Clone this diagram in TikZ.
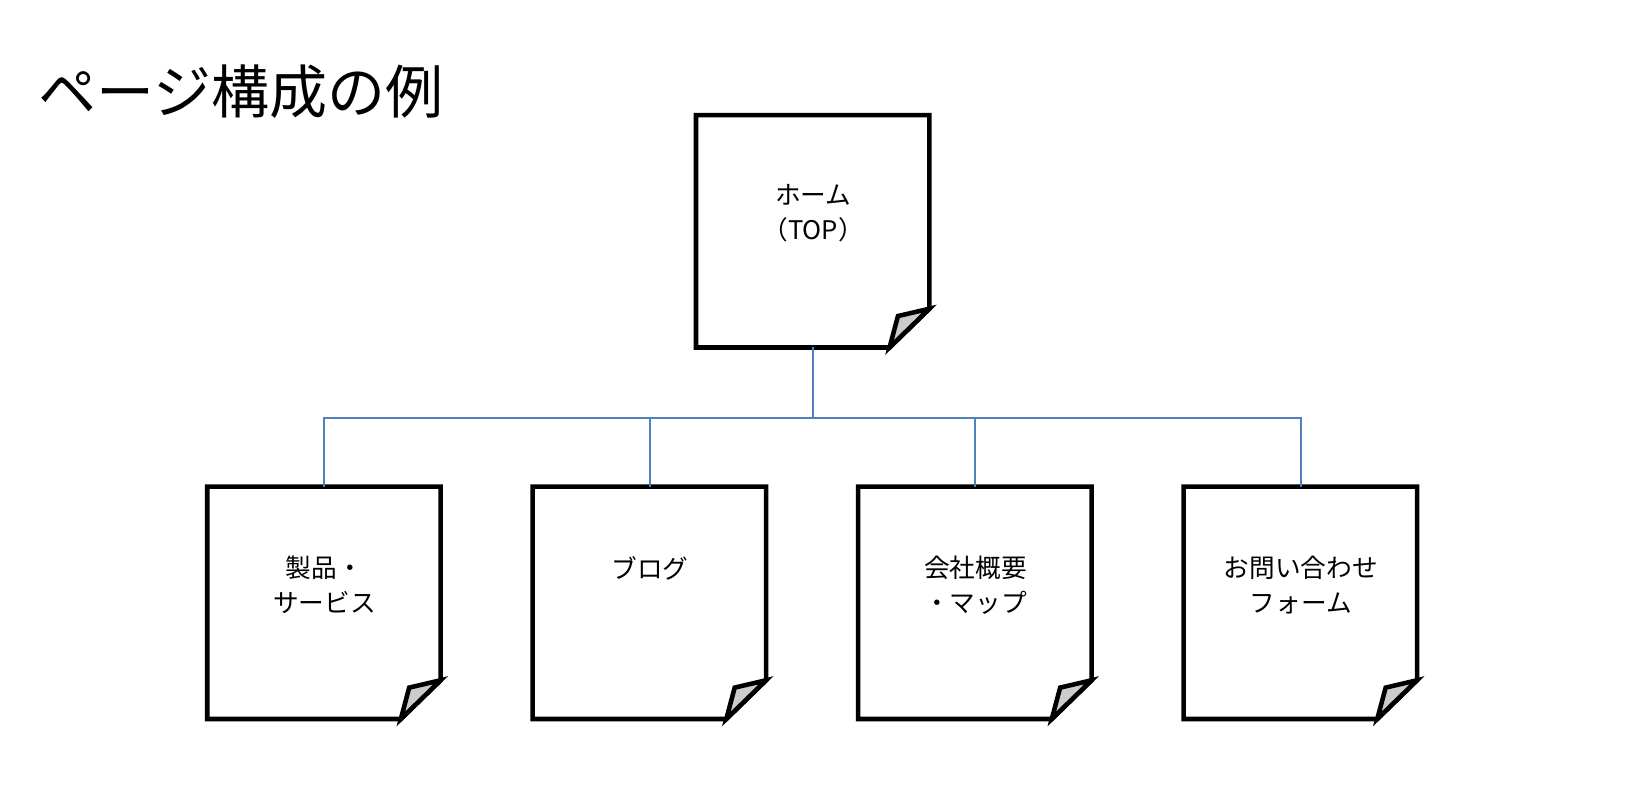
\documentclass[tikz,border=0pt]{standalone}
\usepackage{fontspec}
\newfontfamily\cjk{Noto Sans CJK JP}
\newcommand\pagenode[4]{%
  \draw[pagebox] (#1,#2) -- (#1+223,#2) -- (#1+223,#2+185) -- (#1+185,#2+222) -- (#1,#2+222) -- cycle;
  \draw[fold] (#1+185,#2+222) -- (#1+193,#2+192) -- (#1+223,#2+185) -- cycle;
  \node[lbl] (#3) at (#1+112,#2+94) {#4};
  \coordinate (#3t) at (#1+112,#2);
  \coordinate (#3b) at (#1+112,#2+222);}
\begin{document}
\begin{tikzpicture}[x=0.010466cm,y=-0.010466cm,
  pagebox/.style={line width=1.3pt,line join=miter},
  fold/.style={line width=1.3pt,fill=black!20},
  conn/.style={draw={rgb,255:red,79;green,129;blue,189},line width=0.6pt},
  lbl/.style={font=\cjk\fontsize{7.3pt}{10pt}\selectfont,align=center}]
\node[anchor=base west,font=\cjk\fontsize{16.5pt}{20pt}\selectfont,inner sep=0] (title) at (36,108) {ページ構成の例};
\pagenode{665}{110}{top}{ホーム\\（TOP）}
\pagenode{198}{465}{a}{製品・\\サービス}
\pagenode{509}{465}{b}{ブログ\\\mbox{}}
\pagenode{820}{465}{c}{会社概要\\・マップ}
\pagenode{1131}{465}{d}{お問い合わせ\\フォーム}
\coordinate (hub) at (777,399);
\draw[conn] (topb) -- (hub);
\draw[conn] (at) |- (hub);
\draw[conn] (bt) |- (hub);
\draw[conn] (ct) |- (hub);
\draw[conn] (dt) |- (hub);
\pgfresetboundingbox
\path[use as bounding box] (0,0) rectangle (1568,764);
\end{tikzpicture}
\end{document}
